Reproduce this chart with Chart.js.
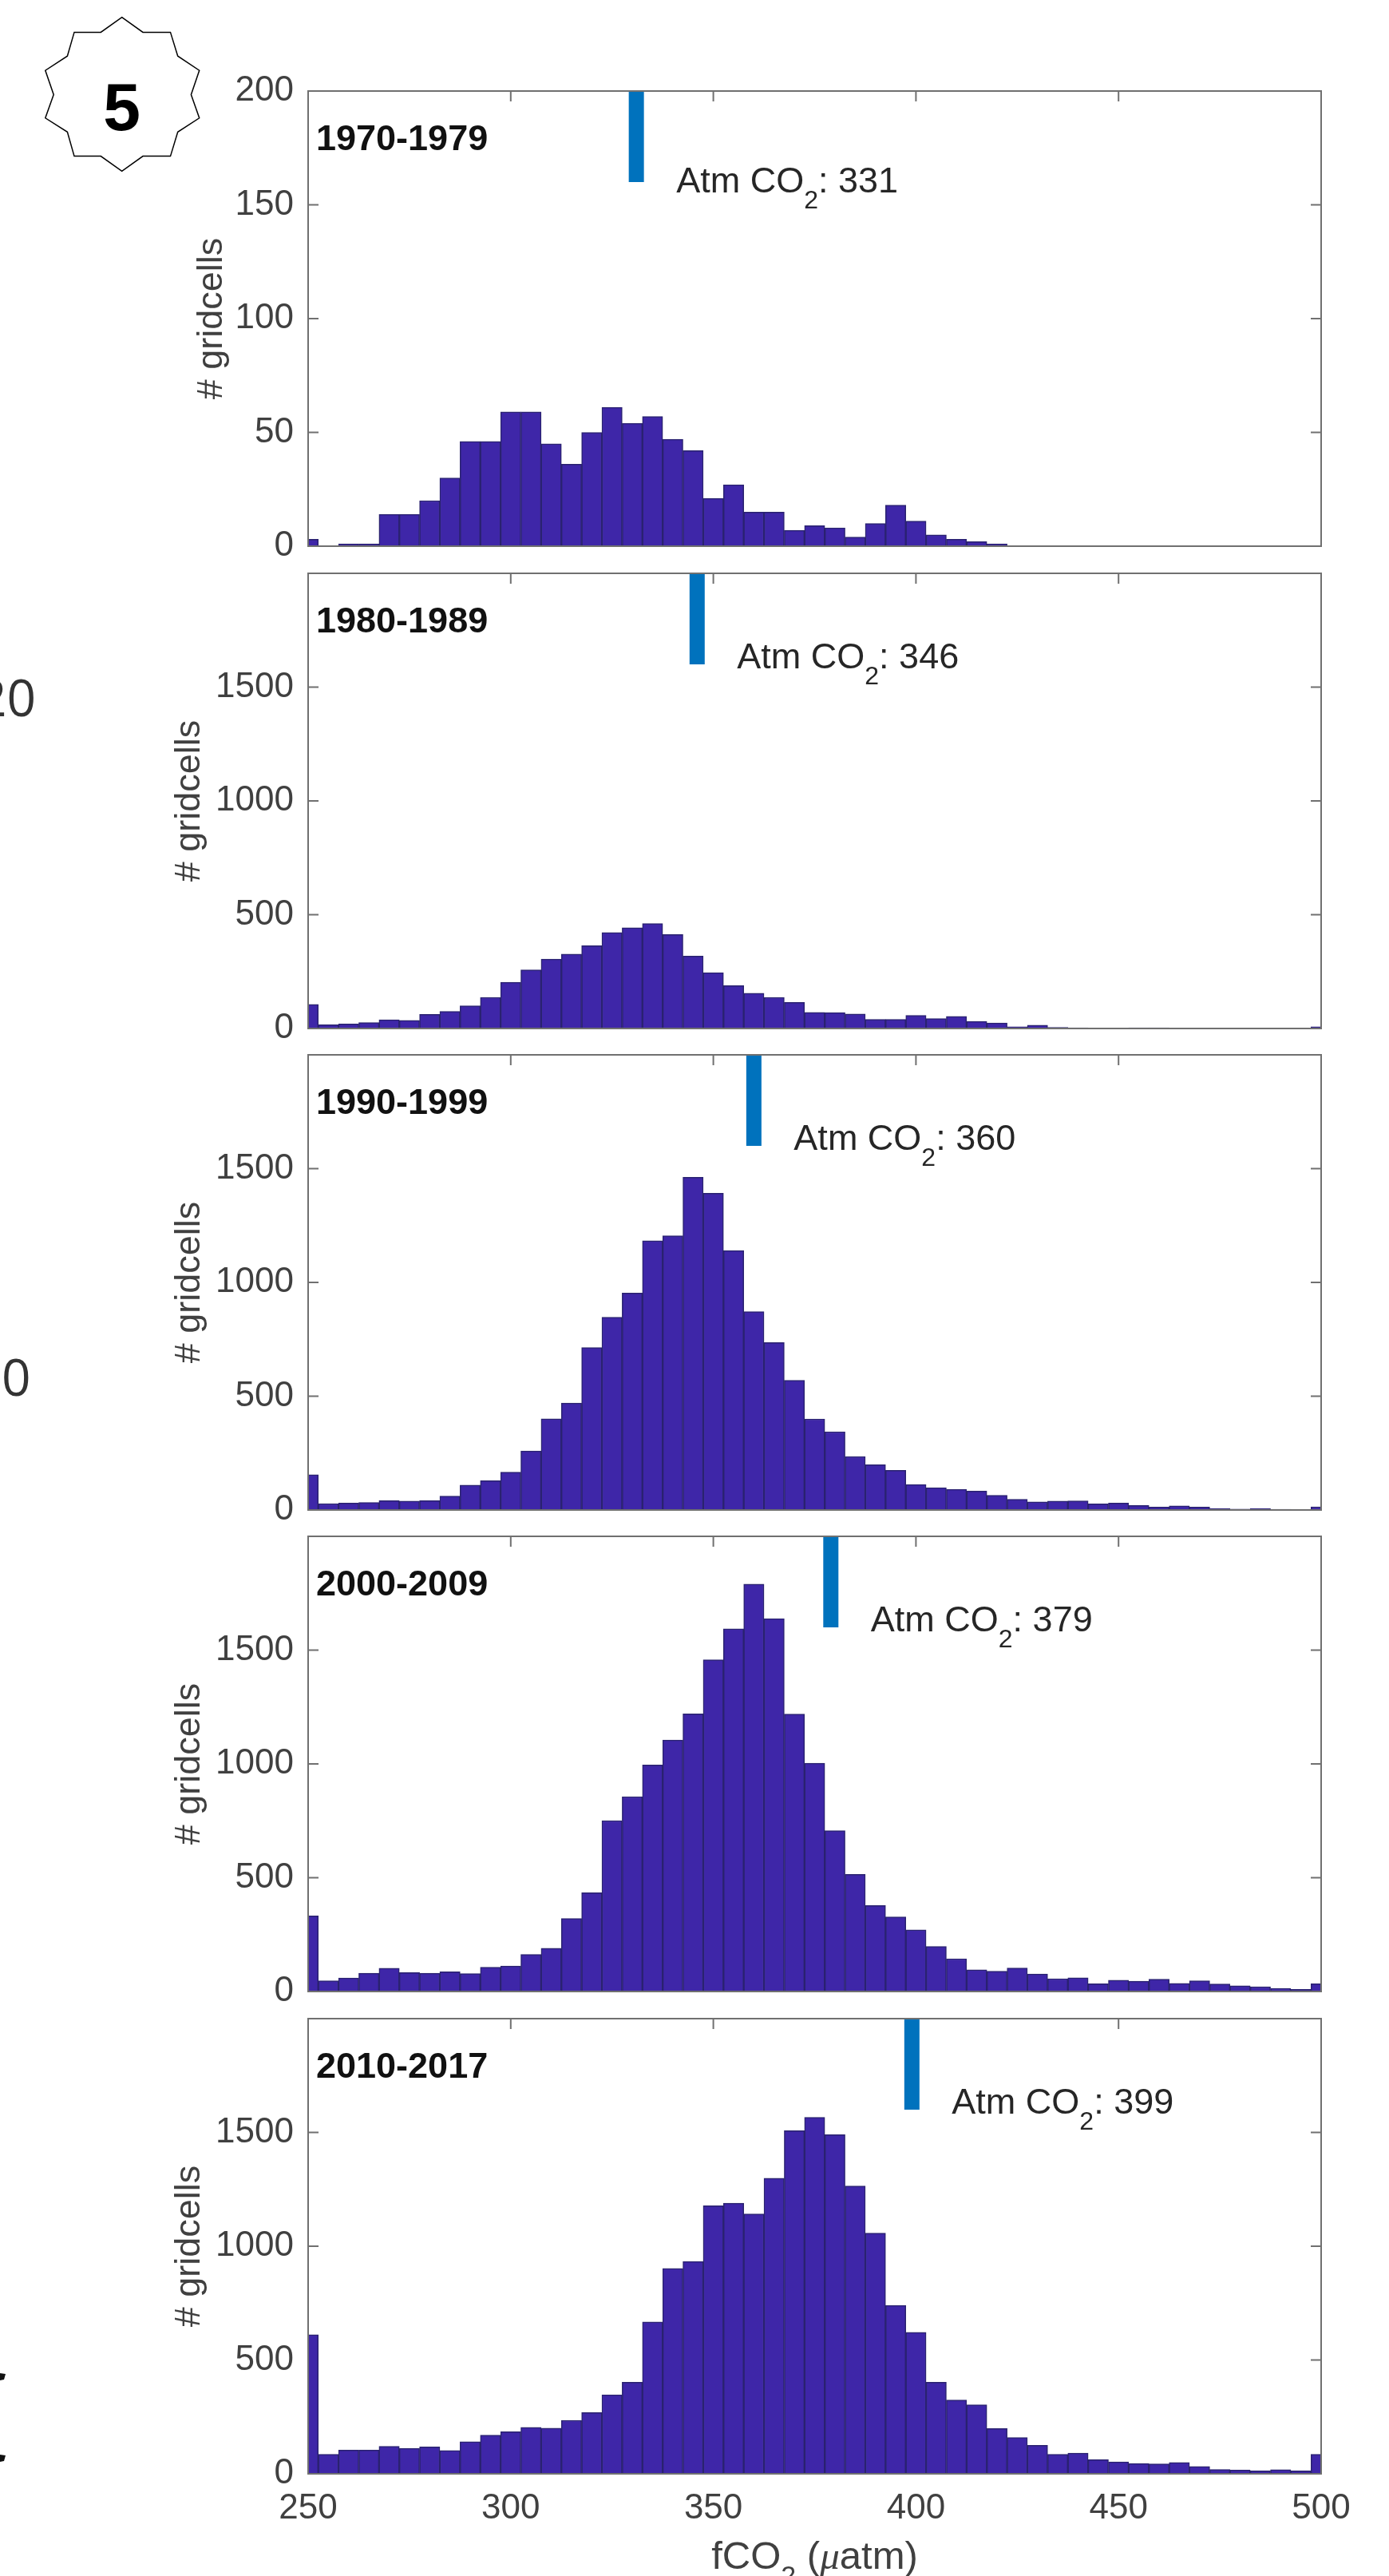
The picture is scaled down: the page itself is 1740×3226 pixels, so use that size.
<!DOCTYPE html>
<html>
<head>
<meta charset="utf-8">
<title>fCO2 histograms</title>
<script src="https://cdn.jsdelivr.net/npm/chart.js@4"></script>
<style>
    html, body { margin: 0; padding: 0; background: #fff; }
    #page { position: relative; width: 1740px; height: 3226px; overflow: hidden; background: #fff; }
    #page canvas { position: absolute; }
    .cut { position: absolute; font-family: "Open Sans"; font-size: 64px; line-height: 64px; color: #333; }
    #badge { position: absolute; left: 0; top: 0; }
</style>
</head>
<body>
<div id="page">
    <svg id="badge" width="300" height="240">
        <polygon points="152.7,21.6 179,40.4 213.5,40.4 222.7,70.2 249.7,88.2 239.4,118.5 249.7,147.8 222.7,165.3 213.5,195.6 179,195.6 152.7,214.4 126.3,195.6 93,195.6 84.4,165.3 56.8,147.8 67.2,118.5 56.8,88.2 84.4,70.2 93,40.4 126.3,40.4" fill="#fff" stroke="#000" stroke-width="1.5"/>
        <text x="152.7" y="163" text-anchor="middle" font-family="Liberation Sans" font-weight="bold" font-size="84">5</text>
    </svg>
    <!-- bits of the neighbouring page, cropped at the edge -->
    <span class="cut" style="left:-28px; top:841px">20</span>
    <span class="cut" style="left:2px; top:1692px">0</span>
    <svg style="position:absolute; left:0; top:2960px" width="10" height="130">
        <polygon points="0,12 7,13 5,20 0,21" fill="#111"/>
        <polygon points="0,114 7,115 5,122 0,123" fill="#111"/>
    </svg>
</div>

<script>
// bin centres (uatm), first and last bins are cut in half by the axis limits
const binCentres = [250, 255, 260, 265, 270, 275, 280, 285, 290, 295, 300, 305, 310, 315, 320, 325, 330, 335, 340, 345,
    350, 355, 360, 365, 370, 375, 380, 385, 390, 395, 400, 405, 410, 415, 420, 425, 430, 435, 440, 445,
    450, 455, 460, 465, 470, 475, 480, 485, 490, 495, 500];

const counts1970 = [3, 0, 1, 1, 14, 14, 20, 30, 46, 46, 59, 59, 45, 36, 50, 61, 54, 57, 47, 42,
    21, 27, 15, 15, 7, 9, 8, 4, 10, 18, 11, 5, 3, 2, 1, 0, 0, 0, 0, 0,
    0, 0, 0, 0, 0, 0, 0, 0, 0, 0, 0];
const counts1980 = [106, 16, 20, 26, 38, 36, 62, 75, 100, 137, 203, 258, 305, 327, 364, 422, 443, 461, 413, 318,
    245, 188, 155, 137, 115, 71, 70, 64, 40, 40, 58, 44, 53, 31, 24, 8, 15, 5, 3, 2,
    1, 3, 3, 1, 2, 1, 1, 2, 2, 1, 8];
const counts1990 = [155, 28, 30, 33, 41, 39, 41, 61, 109, 129, 166, 259, 401, 470, 714, 847, 953, 1183, 1205, 1462,
    1392, 1140, 872, 736, 570, 400, 344, 235, 199, 174, 112, 98, 91, 83, 65, 47, 36, 39, 40, 27,
    30, 20, 13, 18, 13, 6, 4, 6, 3, 2, 14];
const counts2000 = [332, 47, 59, 80, 102, 83, 80, 87, 79, 107, 112, 163, 190, 321, 434, 751, 856, 995, 1105, 1220,
    1458, 1594, 1790, 1638, 1219, 1003, 707, 515, 378, 328, 271, 198, 144, 95, 89, 103, 77, 56, 60, 34,
    50, 45, 54, 36, 47, 33, 25, 21, 14, 9, 34];
const counts2010 = [611, 86, 104, 104, 121, 112, 118, 102, 141, 170, 185, 204, 201, 235, 269, 347, 402, 667, 902, 933,
    1178, 1189, 1142, 1299, 1508, 1566, 1490, 1265, 1058, 740, 622, 402, 324, 303, 199, 159, 125, 86, 91, 62,
    52, 45, 44, 50, 32, 19, 16, 13, 18, 13, 86];

const decades = ["1970-1979", "1980-1989", "1990-1999", "2000-2009", "2010-2017"];
const atmCO2 = [331, 346, 360, 379, 399];
const allCounts = [counts1970, counts1980, counts1990, counts2000, counts2010];

const xTicks = [250, 300, 350, 400, 450, 500];
const yTicksFirst = [0, 50, 100, 150, 200];
const yTicksRest = [0, 500, 1000, 1500];

// LAYOUT
const panelTops = [114, 718, 1321, 1924, 2528];
const panelHeight = 570;
const canvasLeft = 200;
const canvasWidth = 1540;
const pad = 50;

const fillColor = "#3E26A8";
const edgeColor = "#2A2270";
const markerColor = "#0072BD";
const frameColor = "#707070";
const textColor = "#404040";

Chart.defaults.font.family = '"Liberation Sans", Arial, sans-serif';
Chart.defaults.animation = false;

// text with a subscript, runs are [text, font, dy]
function drawRuns(ctx, x, y, runs) {
    runs.forEach(r => {
        ctx.font = r[1];
        ctx.fillText(r[0], x, y + r[2]);
        x += ctx.measureText(r[0]).width;
    });
    return x;
}

function runsWidth(ctx, runs) {
    return runs.reduce((sum, r) => {
        ctx.font = r[1];
        return sum + ctx.measureText(r[0]).width;
    }, 0);
}

function framePlugin(i) {
    return {
        id: "frame" + i,
        beforeDatasetsDraw(chart) {
            let ctx = chart.ctx;
            let a = chart.chartArea;
            ctx.save();
            ctx.strokeStyle = frameColor;
            ctx.lineWidth = 2;
            ctx.beginPath();
            chart.scales.x.ticks.forEach(t => {
                let px = chart.scales.x.getPixelForValue(t.value);
                ctx.moveTo(px, a.top);
                ctx.lineTo(px, a.top + 13);
            });
            chart.scales.y.ticks.forEach(t => {
                let py = chart.scales.y.getPixelForValue(t.value);
                ctx.moveTo(a.left, py);
                ctx.lineTo(a.left + 13, py);
                ctx.moveTo(a.right, py);
                ctx.lineTo(a.right - 13, py);
            });
            ctx.stroke();
            ctx.restore();
        },
        afterDatasetsDraw(chart) {
            let ctx = chart.ctx;
            let a = chart.chartArea;
            ctx.save();
            ctx.strokeStyle = frameColor;
            ctx.lineWidth = 2;
            ctx.strokeRect(a.left, a.top, a.right - a.left, a.bottom - a.top);

            // decade name
            ctx.fillStyle = "#111";
            ctx.textBaseline = "alphabetic";
            ctx.font = 'bold 45px "Liberation Sans"';
            ctx.fillText(decades[i], a.left + 10, a.top + 74);

            // atmospheric value next to the blue marker
            let up = i === 0 ? 127 : 119;
            ctx.fillStyle = "#262626";
            drawRuns(ctx, chart.scales.x.getPixelForValue(atmCO2[i]) + 50, a.top + up, [
                ["Atm CO", '45px "Liberation Sans"', 0],
                ["2", '32px "Liberation Sans"', 20],
                [": " + atmCO2[i], '45px "Liberation Sans"', 0]
            ]);

            // x title only under the last panel
            if (i === decades.length - 1) {
                let runs = [
                    ["fCO", '49px "Liberation Sans"', 0],
                    ["2", '34px "Liberation Sans"', 20],
                    [" (", '49px "Liberation Sans"', 0],
                    ["\u03BC", 'italic 49px "Liberation Serif"', 0],
                    ["atm)", '49px "Liberation Sans"', 0]
                ];
                ctx.fillStyle = textColor;
                let cx = (a.left + a.right) / 2;
                drawRuns(ctx, cx - runsWidth(ctx, runs) / 2, a.bottom + 119, runs);
            }
            ctx.restore();
        }
    };
}

function makePanel(i) {
    let last = i === decades.length - 1;
    let yMax = i === 0 ? 200 : 2000;
    let yTicks = i === 0 ? yTicksFirst : yTicksRest;

    let canvas = document.createElement("canvas");
    canvas.width = canvasWidth;
    canvas.height = last ? 3226 - (panelTops[i] - pad) : panelHeight + 2 * pad;
    canvas.style.left = canvasLeft + "px";
    canvas.style.top = (panelTops[i] - pad) + "px";
    document.getElementById("page").appendChild(canvas);

    new Chart(canvas, {
        type: "bar",
        data: {
            datasets: [
                {
                    data: binCentres.map((c, k) => ({ x: c, y: allCounts[i][k] })),
                    backgroundColor: fillColor,
                    borderColor: edgeColor,
                    borderWidth: 1.5,
                    barPercentage: 1,
                    categoryPercentage: 1,
                    order: 2
                },
                {
                    type: "line",
                    data: [{ x: atmCO2[i], y: yMax * 0.8 }, { x: atmCO2[i], y: yMax }],
                    borderColor: markerColor,
                    borderWidth: 19,
                    borderCapStyle: "butt",
                    pointRadius: 0,
                    fill: false,
                    order: 1
                }
            ]
        },
        options: {
            responsive: false,
            maintainAspectRatio: false,
            layout: { autoPadding: false, padding: { left: 0, right: 85, top: pad, bottom: pad } },
            plugins: { legend: { display: false }, tooltip: { enabled: false } },
            scales: {
                x: {
                    type: "linear",
                    offset: false,
                    min: 250,
                    max: 500,
                    grid: { display: false, offset: false, drawTicks: false },
                    border: { display: false },
                    afterBuildTicks: s => { s.ticks = xTicks.map(v => ({ value: v })); },
                    afterFit: s => { s.height = last ? 78 : 0; },
                    ticks: {
                        display: last,
                        maxRotation: 0,
                        autoSkip: false,
                        padding: 17,
                        color: textColor,
                        font: { size: 44 },
                        callback: v => String(v)
                    }
                },
                y: {
                    min: 0,
                    max: yMax,
                    grid: { display: false, drawTicks: false },
                    border: { display: false },
                    afterBuildTicks: s => { s.ticks = yTicks.map(v => ({ value: v })); },
                    afterFit: s => { s.width = 186; },
                    ticks: {
                        autoSkip: false,
                        padding: 18,
                        color: textColor,
                        font: { size: 44 },
                        callback: v => String(v)
                    },
                    title: {
                        display: true,
                        text: "# gridcells",
                        color: textColor,
                        font: { size: 45 },
                        padding: { top: i === 0 ? 39 : 11, bottom: 0 }
                    }
                }
            }
        },
        plugins: [framePlugin(i)]
    });
}

decades.forEach((d, i) => makePanel(i));
</script>
</body>
</html>
